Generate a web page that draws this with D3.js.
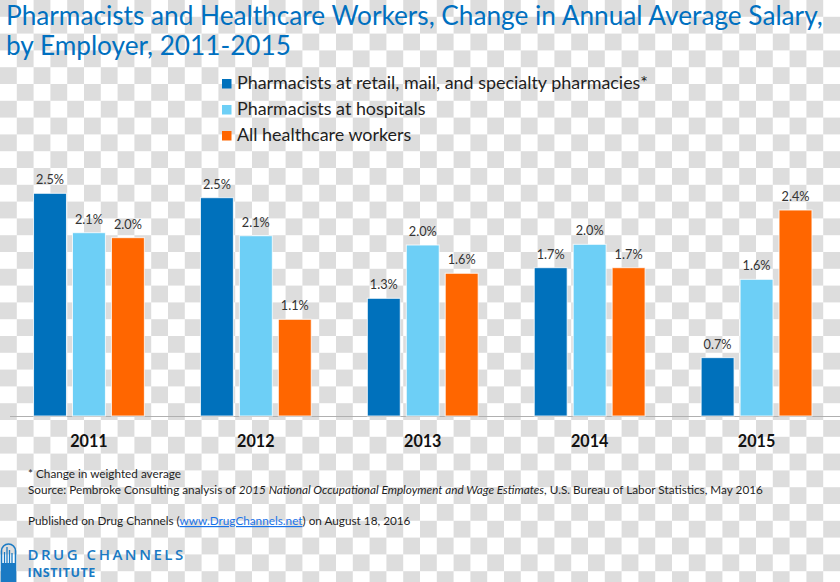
<!DOCTYPE html>
<html><head><meta charset="utf-8">
<script src="https://cdn.jsdelivr.net/npm/d3@7"></script>
<style>html,body{margin:0;padding:0;background:#fff;}svg{display:block;}</style>
</head><body>
<svg id="chart" width="840" height="582"></svg>
<script>
const years = ["2011", "2012", "2013", "2014", "2015"];
const seriesNames = ["Pharmacists at retail, mail, and specialty pharmacies*", "Pharmacists at hospitals", "All healthcare workers"];
const retailValues = [2.545, 2.495, 1.345, 1.695, 0.667];
const hospitalValues = [2.095, 2.06, 1.954, 1.962, 1.562];
const allWorkersValues = [2.038, 1.105, 1.631, 1.695, 2.354];
const seriesColors = ["#0071bc", "#6dcff6", "#ff6600"];

const series = [retailValues, hospitalValues, allWorkersValues];
const svg = d3.select("#chart");
const W = 840, H = 582;
const FONT = "Lato, 'Open Sans', sans-serif";

// checkerboard background
const cell = 16.8;
const defs = svg.append("defs");
const pat = defs.append("pattern").attr("id", "checker").attr("patternUnits", "userSpaceOnUse")
  .attr("width", cell * 2).attr("height", cell * 2);
pat.append("rect").attr("width", cell * 2).attr("height", cell * 2).attr("fill", "#ffffff");
pat.append("rect").attr("x", 0).attr("y", 0).attr("width", cell).attr("height", cell).attr("fill", "#dddddd");
pat.append("rect").attr("x", cell).attr("y", cell).attr("width", cell).attr("height", cell).attr("fill", "#dddddd");
svg.append("rect").attr("width", W).attr("height", H).attr("fill", "url(#checker)");

function fitSize(sel, target) {
  const fs = parseFloat(sel.attr("font-size"));
  const w = sel.node().getComputedTextLength();
  const ns = fs * target / w;
  sel.attr("font-size", ns);
  return ns;
}

// title
const blue = "#0070c0";
const t1 = svg.append("text").attr("x", 6).attr("y", 25).attr("font-family", FONT).attr("font-size", 24)
  .attr("fill", blue).text("Pharmacists and Healthcare Workers, Change in Annual Average Salary,");
const tSize = fitSize(t1, 817);
svg.append("text").attr("x", 6).attr("y", 55).attr("font-family", FONT).attr("font-size", tSize)
  .attr("fill", blue).text("by Employer, 2011-2015");

// legend
const legend = svg.append("g");
let legSize = null;
seriesNames.forEach((name, i) => {
  const yb = 89 + i * 26;
  legend.append("rect").attr("x", 222).attr("y", yb - 10).attr("width", 9.5).attr("height", 9.5).attr("fill", seriesColors[i]);
  const t = legend.append("text").attr("x", 237).attr("y", yb).attr("font-family", FONT)
    .attr("font-size", legSize || 16).attr("fill", "#1f1f1f").text(name);
  if (i === 0) legSize = fitSize(t, 411);
});

// scales
const baseY = 416;
const x0 = d3.scaleBand().domain(years).range([5.5, 840]).paddingInner(0).paddingOuter(0);
const x1 = d3.scaleBand().domain([0, 1, 2]).range([0, x0.bandwidth()]).paddingInner(0.155).paddingOuter(0.72);
const y = d3.scaleLinear().domain([0, 3]).range([baseY, baseY - 262.5]);

// axis line
svg.append("line").attr("x1", 10).attr("x2", 840).attr("y1", baseY + 0.5).attr("y2", baseY + 0.5)
  .attr("stroke", "#b0b0b0").attr("stroke-width", 1.2);

// value label font size
const probe = svg.append("text").attr("font-family", FONT).attr("font-size", 13).text("2.5%");
const valSize = fitSize(probe, 28);
probe.remove();

const fmt = d3.format(".1f");
const groups = svg.append("g").selectAll("g").data(years).join("g")
  .attr("transform", d => `translate(${x0(d)},0)`);
groups.each(function(yr, yi) {
  const g = d3.select(this);
  series.forEach((vals, si) => {
    const v = vals[yi];
    g.append("rect").attr("x", x1(si)).attr("y", y(v)).attr("width", x1.bandwidth()).attr("height", baseY - y(v))
      .attr("fill", seriesColors[si]).attr("stroke", "#ffffff").attr("stroke-width", 1).attr("stroke-opacity", 0.8);
    g.append("text").attr("x", x1(si) + x1.bandwidth() / 2).attr("y", y(v) - 9)
      .attr("text-anchor", "middle").attr("font-family", FONT).attr("font-size", valSize)
      .attr("fill", "#333333").text(fmt(v) + "%");
  });
});

// year labels
const yprobe = svg.append("text").attr("font-family", FONT).attr("font-weight", "bold").attr("font-size", 17).text("2011");
const yearSize = fitSize(yprobe, 37.5);
yprobe.remove();
svg.append("g").selectAll("text").data(years).join("text")
  .attr("x", d => x0(d) + x0.bandwidth() / 2).attr("y", 447).attr("text-anchor", "middle")
  .attr("font-family", FONT).attr("font-weight", "bold").attr("font-size", yearSize).attr("fill", "#111111")
  .text(d => d);

// footnotes
const src = svg.append("text").attr("x", 28).attr("y", 494).attr("font-family", FONT).attr("font-size", 12).attr("fill", "#1f1f1f");
src.append("tspan").text("Source: Pembroke Consulting analysis of ");
src.append("tspan").attr("font-style", "italic").text("2015 National Occupational Employment and Wage Estimates");
src.append("tspan").text(", U.S. Bureau of Labor Statistics, May 2016");
const fnSize = fitSize(src, 735);
svg.append("text").attr("x", 28).attr("y", 478).attr("font-family", FONT).attr("font-size", fnSize).attr("fill", "#1f1f1f")
  .text("* Change in weighted average");
const pub = svg.append("text").attr("x", 28).attr("y", 525).attr("font-family", FONT).attr("font-size", fnSize).attr("fill", "#1f1f1f");
pub.append("tspan").text("Published on Drug Channels (");
pub.append("tspan").attr("fill", "#1a73e8").attr("text-decoration", "underline").text("www.DrugChannels.net");
pub.append("tspan").text(") on August 18, 2016");

// logo
const logoBlue = "#1a7ac4";
const logo = svg.append("g");
logo.append("path").attr("d", "M1.5,590 L1.5,551 A7,7 0 0 1 15.5,551 L15.5,590")
  .attr("fill", "none").attr("stroke", logoBlue).attr("stroke-width", 1.6);
logo.append("rect").attr("x", 1.5).attr("y", 563).attr("width", 14).attr("height", 25).attr("fill", logoBlue);
[[4.5, 552], [7, 547], [9.5, 550], [12, 553]].forEach(([bx, by]) => {
  logo.append("line").attr("x1", bx).attr("x2", bx).attr("y1", by).attr("y2", 563)
    .attr("stroke", logoBlue).attr("stroke-width", 1.3);
});
const dc = logo.append("text").attr("x", 27.5).attr("y", 560).attr("font-family", "'Open Sans', sans-serif")
  .attr("font-weight", 600).attr("font-size", 15).attr("fill", logoBlue).text("DRUG CHANNELS");
let w = dc.node().getComputedTextLength();
dc.attr("letter-spacing", (157 - w) / 12.5);
const inst = logo.append("text").attr("x", 27.5).attr("y", 577).attr("font-family", "'Open Sans', sans-serif")
  .attr("font-weight", 700).attr("font-size", 12.5).attr("fill", logoBlue).text("INSTITUTE");
w = inst.node().getComputedTextLength();
inst.attr("letter-spacing", (68 - w) / 8.5);
</script>
</body></html>
